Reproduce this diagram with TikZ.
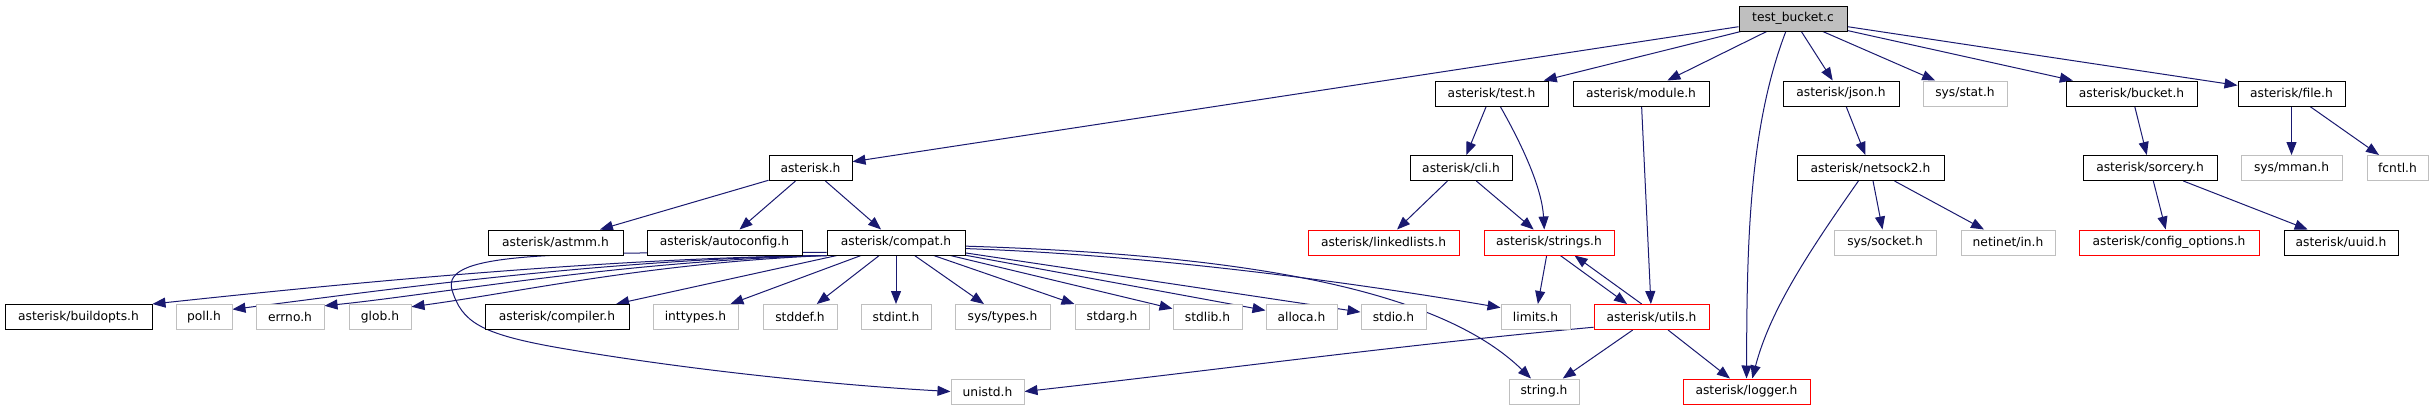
\documentclass[tikz,border=0pt]{standalone}
\usepackage{fontspec}
\setmainfont{DejaVu Sans}
\usetikzlibrary{arrows.meta}
\pgfdeclarelayer{background}
\pgfsetlayers{background,main}
\definecolor{edgeblue}{HTML}{191970}
\definecolor{sysgray}{HTML}{BFBFBF}

\begin{document}
\begin{tikzpicture}[
    x=0.75pt, y=-0.75pt, % one unit is one pixel of the graph, y grows downwards
    >={Triangle[length=9.75pt, width=7.5pt]}, % Set default arrow tip style
    hdr/.style={draw=black, line width=0.75pt, fill=white, inner sep=0pt,
        minimum height=18.75pt, font=\fontsize{9.2pt}{11pt}\selectfont}, % Style for documented headers
    sys/.style={hdr, draw=sysgray}, % Style for system headers
    trunc/.style={hdr, draw=red}, % Style for truncated headers
    root/.style={hdr, fill=sysgray}, % Style for the source file
    bw/.style={minimum width=#1*0.75pt}, % box width in pixels
    edge/.style={->, edgeblue, line width=0.75pt} % Style for include arrows
]

    \useasboundingbox (0,0) rectangle (2433,411);

    % Source file
    \node[root, bw=108] (tb) at (1793,18.5) {test\_bucket.c};

    % First level
    \node[hdr, bw=113] (test) at (1491.5,93.5) {asterisk/test.h};
    \node[hdr, bw=136] (module) at (1641,93.5) {asterisk/module.h};
    \node[hdr, bw=116] (json) at (1841,93.5) {asterisk/json.h};
    \node[sys, bw=84] (stat) at (1965,93.5) {sys/stat.h};
    \node[hdr, bw=131] (bucket) at (2131.5,93.5) {asterisk/bucket.h};
    \node[hdr, bw=107] (file) at (2291.5,93.5) {asterisk/file.h};

    % Second level
    \node[hdr, bw=83] (ast) at (810.5,168) {asterisk.h};
    \node[hdr, bw=102] (cli) at (1461,168) {asterisk/cli.h};
    \node[hdr, bw=147] (netsock) at (1870.5,168) {asterisk/netsock2.h};
    \node[hdr, bw=134] (sorcery) at (2150,168) {asterisk/sorcery.h};
    \node[sys, bw=101] (mman) at (2291.5,168) {sys/mman.h};
    \node[sys, bw=61] (fcntl) at (2397.5,168) {fcntl.h};

    % Third level
    \node[hdr, bw=135] (astmm) at (555.5,242.5) {asterisk/astmm.h};
    \node[hdr, bw=155] (autoconf) at (724.5,242.5) {asterisk/autoconfig.h};
    \node[hdr, bw=138] (compat) at (896,242.5) {asterisk/compat.h};
    \node[trunc, bw=151] (linked) at (1383.5,242.5) {asterisk/linkedlists.h};
    \node[trunc, bw=130] (strings) at (1549,242.5) {asterisk/strings.h};
    \node[sys, bw=102] (socket) at (1885,242.5) {sys/socket.h};
    \node[sys, bw=94] (netin) at (2008,242.5) {netinet/in.h};
    \node[trunc, bw=180] (config) at (2169,242.5) {asterisk/config\_options.h};
    \node[hdr, bw=114] (uuid) at (2341,242.5) {asterisk/uuid.h};

    % Fourth level
    \node[hdr, bw=147] (buildopts) at (78.5,317) {asterisk/buildopts.h};
    \node[sys, bw=56] (poll) at (204,317) {poll.h};
    \node[sys, bw=68] (errno) at (290,317) {errno.h};
    \node[sys, bw=62] (glob) at (380,317) {glob.h};
    \node[hdr, bw=144] (compiler) at (557,317) {asterisk/compiler.h};
    \node[sys, bw=85] (inttypes) at (695.5,317) {inttypes.h};
    \node[sys, bw=74] (stddef) at (800,317) {stddef.h};
    \node[sys, bw=70] (stdint) at (896,317) {stdint.h};
    \node[sys, bw=95] (systypes) at (1002.5,317) {sys/types.h};
    \node[sys, bw=74] (stdarg) at (1112,317) {stdarg.h};
    \node[sys, bw=69] (stdlib) at (1207.5,317) {stdlib.h};
    \node[sys, bw=71] (alloca) at (1301.5,317) {alloca.h};
    \node[sys, bw=65] (stdio) at (1393.5,317) {stdio.h};
    \node[sys, bw=69] (limits) at (1535.5,317) {limits.h};
    \node[trunc, bw=115] (utils) at (1651.5,317) {asterisk/utils.h};

    % Fifth level
    \node[sys, bw=73] (unistd) at (987.5,391.5) {unistd.h};
    \node[sys, bw=70] (string) at (1544,391.5) {string.h};
    \node[trunc, bw=127] (logger) at (1746.5,391.5) {asterisk/logger.h};

    \begin{pgfonlayer}{background}
    \fill[white] (0,0) rectangle (2433,411);

    % test_bucket.c
    \draw[edge] (tb) -- (ast);
    \draw[edge] (tb) -- (test);
    \draw[edge] (tb) -- (module);
    \draw[edge] (tb.241) .. controls (1748,130) and (1747,250) .. (logger.north);
    \draw[edge] (tb) -- (json);
    \draw[edge] (tb) -- (stat);
    \draw[edge] (tb) -- (bucket);
    \draw[edge] (tb) -- (file);

    % asterisk.h
    \draw[edge] (ast) -- (astmm);
    \draw[edge] (ast) -- (autoconf);
    \draw[edge] (ast) -- (compat);

    % asterisk/compat.h
    \draw[edge] (compat.south west) .. controls (600,258) and (330,285) .. (buildopts.north east);
    \draw[edge] (compat.south west) .. controls (600,259) and (370,292) .. (poll.15);
    \draw[edge] (compat.south west) .. controls (620,261) and (440,294) .. (errno.18);
    \draw[edge] (compat.south west) .. controls (650,263) and (520,292) .. (glob.18);
    \draw[edge] (compat) -- (compiler);
    \draw[edge] (compat) -- (inttypes);
    \draw[edge] (compat) -- (stddef);
    \draw[edge] (compat) -- (stdint);
    \draw[edge] (compat) -- (systypes);
    \draw[edge] (compat) -- (stdarg);
    \draw[edge] (compat) -- (stdlib);
    \draw[edge] (compat) -- (alloca);
    \draw[edge] (compat) -- (stdio);
    \draw[edge] (compat.-5) .. controls (1150,255) and (1350,282) .. (limits.165);
    \draw[edge] (compat.-3) .. controls (1250,255) and (1440,290) .. (string.135);
    \draw[edge] (compat.188) .. controls (560,253) and (440,250) .. (452,290)
        .. controls (462,322) and (480,334) .. (560,348)
        .. controls (700,372) and (850,386) .. (unistd.west);

    % asterisk/test.h and asterisk/cli.h
    \draw[edge] (test) -- (cli);
    \draw[edge] (test.-56) .. controls (1525,150) and (1542,190) .. (strings.110);
    \draw[edge] (cli) -- (linked);
    \draw[edge] (cli) -- (strings);

    % asterisk/module.h, strings.h, utils.h
    \draw[edge] (module) -- (utils);
    \draw[edge] (strings) -- (limits);
    \draw[edge] (strings.-49) -- (utils.152);
    \draw[edge] (utils.127) -- (strings.-27);
    \draw[edge] (utils.190) .. controls (1400,345) and (1200,372) .. (unistd.east);
    \draw[edge] (utils) -- (string);
    \draw[edge] (utils) -- (logger);

    % asterisk/json.h and asterisk/netsock2.h
    \draw[edge] (json) -- (netsock);
    \draw[edge] (netsock) -- (socket);
    \draw[edge] (netsock) -- (netin);
    \draw[edge] (netsock.227) .. controls (1810,250) and (1770,310) .. (logger.66);

    % asterisk/bucket.h and asterisk/sorcery.h
    \draw[edge] (bucket) -- (sorcery);
    \draw[edge] (sorcery) -- (config);
    \draw[edge] (sorcery) -- (uuid);

    % asterisk/file.h
    \draw[edge] (file) -- (mman);
    \draw[edge] (file) -- (fcntl);
    \end{pgfonlayer}

\end{tikzpicture}
\end{document}
